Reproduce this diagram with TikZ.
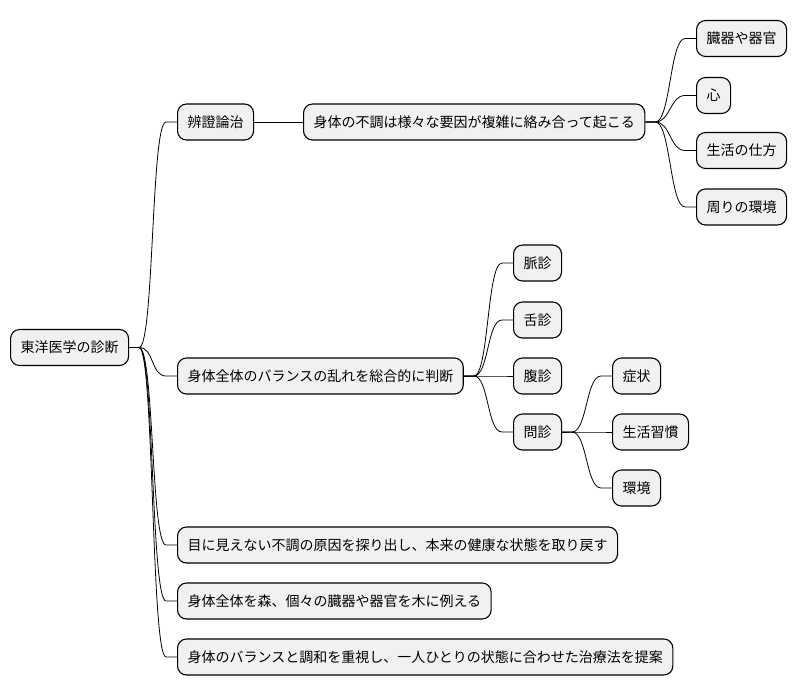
\documentclass[tikz,border=0pt]{standalone}
\usepackage{fontspec}
\setmainfont{Noto Sans CJK JP}
\usetikzlibrary{calc}
\definecolor{boxfill}{HTML}{F1F1F1}
\tikzset{
  mm/.style={draw=black, fill=boxfill, line width=1.1pt, rounded corners=9pt,
    minimum height=36pt, inner xsep=10pt, inner ysep=0pt, anchor=west,
    font=\fontsize{14}{16}\selectfont},
  conn/.style={draw=black, line width=0.8pt}
}
\newcommand{\mmconn}[2]{\draw[conn] (#1.east) -- ++(10,0) .. controls +(15,0) and +(-15,0) .. ($(#2.west)+(-11,0)$) -- (#2.west);}
\begin{document}
\begin{tikzpicture}[x=1pt,y=-1pt]
\useasboundingbox (0,0) rectangle (796,696);
\node[mm] (root) at (10,347.5) {東洋医学の診断};
\node[mm] (a) at (177,122) {辨證論治};
\node[mm] (a1) at (303,122) {身体の不調は様々な要因が複雑に絡み合って起こる};
\node[mm] (a11) at (696,38.5) {臓器や器官};
\node[mm] (a12) at (696,95.5) {心};
\node[mm] (a13) at (696,150.5) {生活の仕方};
\node[mm] (a14) at (696,207) {周りの環境};
\node[mm] (b) at (177,376) {身体全体のバランスの乱れを総合的に判断};
\node[mm] (b1) at (513,263) {脈診};
\node[mm] (b2) at (513,320) {舌診};
\node[mm] (b3) at (513,376) {腹診};
\node[mm] (b4) at (513,432) {問診};
\node[mm] (b41) at (612,376) {症状};
\node[mm] (b42) at (612,432) {生活習慣};
\node[mm] (b43) at (612,488) {環境};
\node[mm] (c) at (177,545) {目に見えない不調の原因を探り出し、本来の健康な状態を取り戻す};
\node[mm] (d) at (177,601) {身体全体を森、個々の臓器や器官を木に例える};
\node[mm] (e) at (177,657) {身体のバランスと調和を重視し、一人ひとりの状態に合わせた治療法を提案};
\mmconn{root}{a}
\mmconn{root}{b}
\mmconn{root}{c}
\mmconn{root}{d}
\mmconn{root}{e}
\draw[conn] (a.east) -- (a1.west);
\mmconn{a1}{a11}
\mmconn{a1}{a12}
\mmconn{a1}{a13}
\mmconn{a1}{a14}
\mmconn{b}{b1}
\mmconn{b}{b2}
\mmconn{b}{b3}
\mmconn{b}{b4}
\mmconn{b4}{b41}
\mmconn{b4}{b42}
\mmconn{b4}{b43}
\end{tikzpicture}
\end{document}
